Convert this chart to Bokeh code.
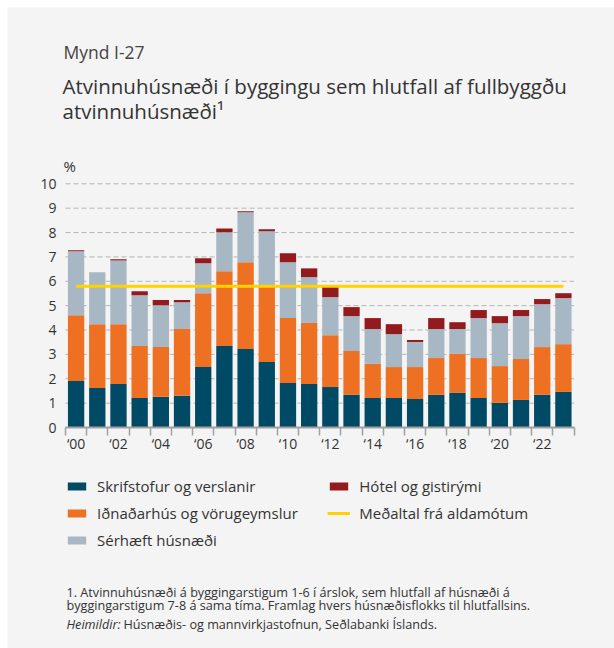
from bokeh.plotting import figure
from bokeh.layouts import column, row
from bokeh.models import (ColumnDataSource, FixedTicker, Label, Legend, LegendItem,
                          Range1d, Spacer)
from bokeh.embed import file_html
from bokeh.resources import INLINE

# ---- data ----
years = list(range(2000, 2024))
skrifstofur = [1.91, 1.62, 1.79, 1.21, 1.26, 1.30, 2.48, 3.34, 3.22, 2.69, 1.83, 1.79,
               1.66, 1.34, 1.21, 1.21, 1.17, 1.34, 1.42, 1.21, 1.01, 1.13, 1.34, 1.46]
idnadarhus = [2.70, 2.62, 2.45, 2.13, 2.04, 2.74, 3.03, 3.07, 3.56, 3.11, 2.66, 2.50,
              2.13, 1.80, 1.40, 1.27, 1.31, 1.51, 1.60, 1.64, 1.51, 1.68, 1.96, 1.96]
serhaeft = [2.62, 2.13, 2.61, 2.09, 1.72, 1.10, 1.23, 1.60, 2.05, 2.25, 2.29, 1.88,
            1.56, 1.43, 1.43, 1.35, 1.03, 1.19, 1.02, 1.64, 1.76, 1.76, 1.76, 1.89]
hotel = [0.04, 0.00, 0.05, 0.16, 0.21, 0.09, 0.20, 0.16, 0.04, 0.08, 0.37, 0.36,
         0.43, 0.37, 0.45, 0.41, 0.08, 0.45, 0.28, 0.33, 0.29, 0.25, 0.21, 0.20]
medaltal = 5.80
series_names = ["Skrifstofur og verslanir", "Iðnaðarhús og vörugeymslur",
                "Sérhæft húsnæði", "Hótel og gistirými"]
avg_name = "Meðaltal frá aldamótum"
label_years = list(range(2000, 2023, 2))
tick_labels = ["\u2018" + str(y)[2:] for y in label_years]
y_ticks = list(range(0, 11))

# ---- style ----
colors = ["#004a66", "#ee7023", "#a7b8c4", "#931b1e"]
avg_color = "#ffd200"
bg = "#f4f4f4"
txt = "#333333"
axis_col = "#a0a0a0"
font = "Open Sans"

# ---- geometry (page pixels) ----
OFF = 7                      # white margin round the grey panel
W, H = 614 - OFF, 648 - OFF  # panel size
X_LEFT, X_RIGHT = 65.0, 573.5   # page x of the first / last category edge
Y0, Y10 = 427.0, 183.3          # page y of 0 and 10
x_lo, x_hi = years[0] - 0.5, years[-1] + 0.5
xppu = (X_RIGHT - X_LEFT) / (x_hi - x_lo)
yppu = (Y0 - Y10) / 10.0
xr = Range1d(x_lo - (X_LEFT - OFF) / xppu, x_hi + (614 - X_RIGHT) / xppu)
yr = Range1d(-(648 - Y0) / yppu, (Y0 - OFF) / yppu)

p = figure(width=W, height=H, output_backend="svg", toolbar_location=None,
           x_range=xr, y_range=yr, min_border=0)
p.background_fill_color = bg
p.border_fill_color = bg
p.outline_line_color = None
p.xgrid.visible = False
p.ygrid.visible = False

src = ColumnDataSource(dict(year=years, s=skrifstofur, i=idnadarhus, h=serhaeft, g=hotel))
grid_src = ColumnDataSource(dict(y=y_ticks, x0=[x_lo] * len(y_ticks), x1=[x_hi] * len(y_ticks)))
avg_src = ColumnDataSource(dict(x=[years[0], years[-1]], y=[medaltal, medaltal]))

# dashed horizontal grid, limited to the plotting area
p.segment(x0="x0", y0="y", x1="x1", y1="y", source=grid_src,
          line_color="#b4b4b4", line_dash="5 3", line_width=1)

bars = p.vbar_stack(["s", "i", "h", "g"], x="year", width=0.77, source=src,
                    color=colors, line_color=None)
avg_line = p.line("x", "y", source=avg_src, line_color=avg_color, line_width=3)

# axes drawn at fixed data locations
xa = p.xaxis[0]
xa.fixed_location = 0
xa.bounds = (x_lo, x_hi)
xa.ticker = FixedTicker(ticks=label_years,
                        minor_ticks=[y - 0.5 for y in years] + [x_hi])
xa.major_label_overrides = {y: t for y, t in zip(label_years, tick_labels)}
xa.major_tick_out = 0
xa.major_tick_in = 0
xa.minor_tick_out = 8
xa.minor_tick_in = 0
xa.minor_tick_line_color = axis_col
xa.minor_tick_line_width = 1.5
xa.axis_line_color = axis_col
xa.axis_line_width = 2
xa.major_label_standoff = -2
xa.major_label_text_font = font
xa.major_label_text_font_size = "14px"
xa.major_label_text_color = txt

ya = p.yaxis[0]
ya.fixed_location = x_lo
ya.bounds = (0, 10)
ya.ticker = FixedTicker(ticks=y_ticks)
ya.axis_line_color = None
ya.major_tick_line_color = None
ya.minor_tick_line_color = None
ya.major_label_standoff = 3
ya.major_label_text_font = font
ya.major_label_text_font_size = "14px"
ya.major_label_text_color = txt


# ---- texts (screen px from the panel's bottom-left) ----
def lab(text, px, py, size, style="normal", color=txt):
    p.add_layout(Label(x=px - OFF, y=648 - py, x_units="screen", y_units="screen",
                       text=text, text_font=font, text_font_size=size,
                       text_font_style=style, text_color=color,
                       text_baseline="alphabetic"))


lab("Mynd I-27", 63, 51, "17.5px", color="#444444")
lab("Atvinnuhúsnæði í byggingu sem hlutfall af fullbyggðu", 62, 85.7, "20.5px")
lab("atvinnuhúsnæði¹", 62, 110, "20.5px")
lab("%", 63, 165, "15px")
lab("1. Atvinnuhúsnæði á byggingarstigum 1-6 í árslok, sem hlutfall af húsnæði á", 66, 591, "12.65px")
lab("byggingarstigum 7-8 á sama tíma. Framlag hvers húsnæðisflokks til hlutfallsins.", 66, 604, "12.65px")
lab("Heimildir:", 66, 623, "12.65px", style="italic")
lab("Húsnæðis- og mannvirkjastofnun, Seðlabanki Íslands.", 123, 623, "12.65px")


# ---- legend (two columns) ----
def make_legend(items, px, py_bottom):
    lg = Legend(items=items, location=(px - OFF, 648 - py_bottom), orientation="vertical",
                glyph_width=23, glyph_height=10, label_height=21, spacing=6,
                label_standoff=9, padding=0, margin=0, border_line_color=None,
                background_fill_alpha=0, label_text_font=font,
                label_text_font_size="15px", label_text_color=txt)
    p.add_layout(lg, "center")


make_legend([LegendItem(label=series_names[k], renderers=[bars[k]]) for k in range(3)],
            65, 550.5)
make_legend([LegendItem(label=series_names[3], renderers=[bars[3]]),
             LegendItem(label=avg_name, renderers=[avg_line])], 327.3, 523.5)

layout = column(Spacer(height=OFF), row(Spacer(width=OFF), p))

open("out.html", "w").write(file_html(layout, INLINE))
